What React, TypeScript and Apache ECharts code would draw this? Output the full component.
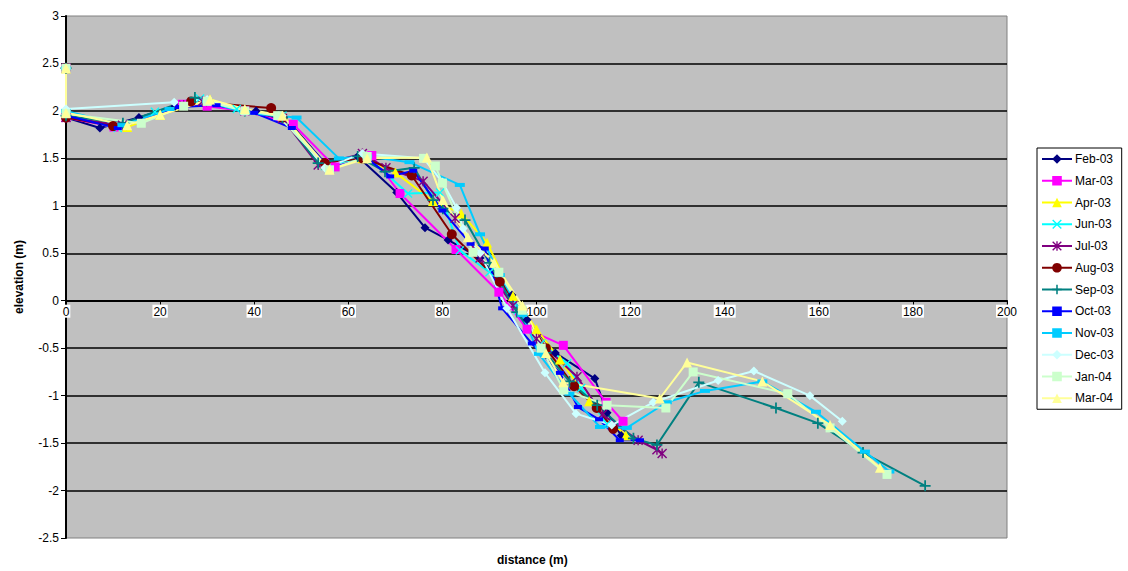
import React, { useEffect, useRef } from "react";
import * as echarts from "echarts";

const seriesNames = ["Feb-03", "Mar-03", "Apr-03", "Jun-03", "Jul-03", "Aug-03", "Sep-03", "Oct-03", "Nov-03", "Dec-03", "Jan-04", "Mar-04"];
const seriesColors = ["#000080", "#ff00ff", "#ffff00", "#00ffff", "#800080", "#800000", "#008080", "#0000ff", "#00ccff", "#ccffff", "#ccffcc", "#ffff99"];

const feb03 = [[0,2.45],[0,1.93],[7.2,1.82],[15.5,1.93],[23.2,2.05],[30,2.06],[40.4,2.0],[48,1.85],[55,1.45],[62,1.52],[70.3,1.14],[76.3,0.77],[81.2,0.64],[88,0.45],[94.8,0.06],[98,-0.2],[104,-0.55],[112.4,-0.82],[115,-1.18],[118,-1.42]];
const mar03 = [[0,2.45],[0,1.93],[10.2,1.83],[24.7,2.07],[30,2.05],[38,2.0],[48.3,1.86],[57.2,1.41],[65,1.53],[71,1.13],[82.9,0.54],[92,0.09],[98,-0.3],[105.7,-0.47],[114.8,-1.07],[118.4,-1.27]];
const apr03 = [[0,2.45],[0,1.98],[13,1.83],[20,1.96],[30.6,2.12],[38,2.01],[46.1,1.95],[55,1.43],[63,1.5],[70,1.35],[78,1.05],[84,0.92],[89.5,0.61],[95,0.05],[100,-0.3],[105,-0.62],[111.2,-1.06],[119,-1.42]];
const jun03 = [[0,2.45],[0,1.95],[11,1.82],[18.9,1.99],[28.5,2.13],[36.3,2.02],[46,1.95],[55,1.42],[64,1.52],[72.7,1.13],[79.5,1.14],[83.7,0.53],[90,0.3],[96,-0.1],[101,-0.45],[106.5,-0.66],[109.5,-0.92],[115,-1.3]];
const jul03 = [[0,2.45],[0,1.93],[12,1.85],[25,2.06],[29,2.1],[38,2.0],[46,1.92],[53.6,1.43],[63,1.55],[68,1.4],[75.9,1.26],[82.7,0.87],[88,0.45],[95,-0.05],[100,-0.4],[108.6,-0.8],[114,-1.2],[121.6,-1.47],[125.6,-1.57],[126.7,-1.61]];
const aug03 = [[0,2.45],[0,1.93],[10,1.84],[26.6,2.1],[43.6,2.03],[46,1.93],[55,1.45],[63,1.5],[73.5,1.32],[82,0.7],[92.2,0.2],[97,-0.1],[102,-0.5],[108,-0.9],[112.8,-1.13],[116.3,-1.35]];
const sep03 = [[0,2.45],[0,1.95],[12.1,1.87],[27.4,2.14],[38,2.0],[46,1.93],[53.6,1.45],[62,1.52],[67.8,1.36],[74,1.4],[78,1.06],[80.1,0.97],[84.8,0.85],[90,0.4],[95.8,-0.12],[102,-0.55],[107,-0.85],[112.9,-1.1],[120.6,-1.45],[125.6,-1.52],[134.5,-0.86],[150.9,-1.13],[159.8,-1.29],[169.4,-1.6],[182.6,-1.95]];
const oct03 = [[0,2.45],[0,1.95],[11,1.82],[24,2.04],[32,2.06],[40,1.98],[48,1.82],[56,1.4],[64,1.5],[68.9,1.31],[73.8,1.37],[80,0.95],[86,0.6],[89,0.55],[92.7,-0.08],[99,-0.45],[105,-0.76],[108.8,-1.12],[113.3,-1.25],[117.7,-1.47],[122,-1.47]];
const nov03 = [[0,2.45],[0,2.0],[12,1.85],[22,2.02],[30,2.1],[38,1.98],[49,1.93],[58,1.5],[64,1.52],[73,1.46],[83.7,1.22],[88,0.7],[92.2,0.27],[97,-0.15],[100.5,-0.56],[107,-0.98],[113.5,-1.33],[119.2,-1.34],[127.7,-1.07],[135.8,-0.95],[148,-0.85],[159.4,-1.17],[169.8,-1.59],[175,-1.8]];
const dec03 = [[0,2.45],[0,2.02],[23,2.09],[30,2.12],[38,2.0],[46,1.95],[55,1.4],[63,1.55],[76,1.5],[80,1.25],[83,0.98],[84.4,0.76],[88,0.5],[93.7,-0.08],[101.8,-0.76],[108.4,-1.19],[116,-1.31],[124.8,-1.07],[138.6,-0.84],[146.2,-0.74],[158.1,-1.0],[165,-1.27]];
const jan04 = [[0,2.45],[0,1.97],[16,1.87],[25,2.05],[30,2.1],[38,2.0],[45,1.95],[56,1.38],[64,1.52],[76,1.5],[78.5,1.42],[80,1.24],[86.5,0.51],[92,0.3],[97,-0.1],[101,-0.5],[105.8,-0.94],[115,-1.1],[127.5,-1.13],[133.3,-0.75],[153.4,-0.98],[162.4,-1.34],[174.5,-1.83]];
const mar04 = [[0,2.45],[0,1.98],[13,1.85],[20,1.96],[30.6,2.12],[38,2.02],[46,1.95],[56,1.38],[64,1.5],[76.7,1.51],[80.1,1.06],[85.4,0.67],[91,0.4],[97,-0.05],[102,-0.55],[105.7,-0.86],[126.2,-1.03],[132,-0.65],[148,-0.85],[162.4,-1.31],[173,-1.76]];

const seriesData = [feb03, mar03, apr03, jun03, jul03, aug03, sep03, oct03, nov03, dec03, jan04, mar04];

const X_PATH = "path://M0,1L1,0L5,4L9,0L10,1L6,5L10,9L9,10L5,6L1,10L0,9L4,5Z";
const STAR_PATH = "path://M0,1L1,0L5,4L9,0L10,1L6,5L10,9L9,10L5,6L1,10L0,9L4,5Z M4.3,0L5.7,0L5.7,10L4.3,10Z";
const PLUS_PATH = "path://M4.2,0L5.8,0L5.8,4.2L10,4.2L10,5.8L5.8,5.8L5.8,10L4.2,10L4.2,5.8L0,5.8L0,4.2L4.2,4.2Z";

const symbols: any[] = ["diamond", "rect", "triangle", X_PATH, STAR_PATH, "circle", PLUS_PATH, "rect", "rect", "diamond", "rect", "triangle"];
const symbolSizes: any[] = [9, 9, 10, 9, 10, 10, 11, [8, 4], [10, 4], 9, 9, 10];

const FONT = "'Liberation Sans', Arial, sans-serif";

export default function App() {
  const ref = useRef<HTMLDivElement>(null);
  useEffect(() => {
    if (!ref.current) return;
    const chart = echarts.init(ref.current, null, { renderer: "svg" });
    const series = seriesNames.map((name, i) => ({
      name,
      type: "line",
      data: seriesData[i],
      symbol: symbols[i],
      symbolSize: symbolSizes[i],
      showAllSymbol: true,
      color: seriesColors[i],
      lineStyle: { width: 2, color: seriesColors[i] },
      itemStyle: { color: seriesColors[i] },
      emphasis: { disabled: true },
    }));
    chart.setOption({
      animation: false,
      backgroundColor: "#ffffff",
      textStyle: { fontFamily: FONT },
      grid: {
        left: 66, right: 121, top: 16, bottom: 33,
        show: true, backgroundColor: "#c0c0c0", borderColor: "#808080", borderWidth: 1,
      },
      xAxis: {
        type: "value", min: 0, max: 200, interval: 20,
        offset: -237.3,
        axisLine: { onZero: false, lineStyle: { color: "#000", width: 2 } },
        axisTick: { show: true, length: 4, lineStyle: { color: "#000", width: 1 } },
        axisLabel: { color: "#000", fontSize: 12, fontFamily: FONT, margin: 4, backgroundColor: "#ffffff", padding: [1, 1, 0, 1] },
        splitLine: { show: false },
      },
      yAxis: {
        type: "value", min: -2.5, max: 3, interval: 0.5,
        axisLine: { show: true, onZero: false, lineStyle: { color: "#000", width: 2 } },
        axisTick: { show: true, length: 5, lineStyle: { color: "#000", width: 1 } },
        axisLabel: { color: "#000", fontSize: 12, fontFamily: FONT, margin: 7 },
        splitLine: { show: true, showMinLine: false, showMaxLine: false, lineStyle: { color: "#000", width: 1.5 } },
        name: "elevation (m)",
        nameLocation: "middle",
        nameGap: 41,
        nameTextStyle: { color: "#000", fontSize: 12, fontWeight: "bold", fontFamily: FONT },
      },
      legend: {
        orient: "vertical",
        left: 1037, top: 148,
        width: 90,
        padding: [5, 8, 5, 4],
        borderColor: "#000", borderWidth: 1,
        backgroundColor: "#ffffff",
        itemWidth: 30, itemHeight: 12, itemGap: 9.75,
        textStyle: { color: "#000", fontSize: 12, fontFamily: FONT, padding: [0, 0, 0, -2] },
        data: seriesNames,
      },
      graphic: [
        {
          type: "text", left: 497, top: 554,
          style: { text: "distance (m)", fill: "#000", font: "bold 12px " + FONT },
        },
      ],
      series,
    });
    return () => chart.dispose();
  }, []);
  return <div ref={ref} style={{ position: "fixed", left: 0, top: 0, width: 1128, height: 571 }} />;
}
